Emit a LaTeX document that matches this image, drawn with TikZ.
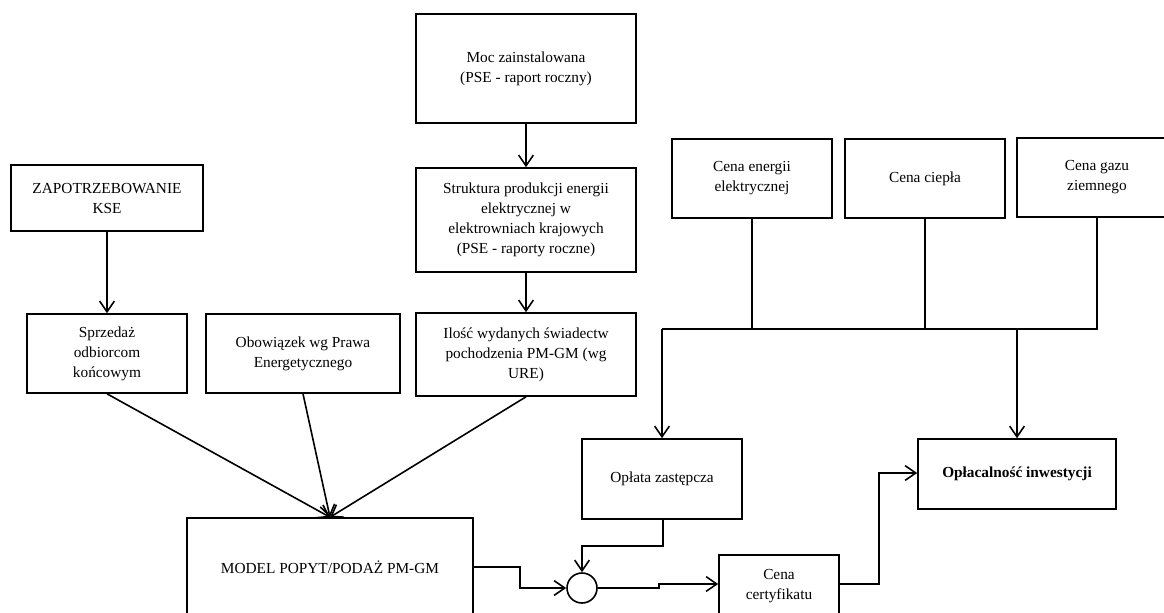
\documentclass[tikz,border=0pt]{standalone}
\usepackage{fontspec}
\setmainfont{Liberation Serif}
\usetikzlibrary{arrows.meta}
\tikzset{
  wh/.style 2 args={minimum width=#1*0.75pt, minimum height=#2*0.75pt},
  box/.style={draw, line width=1.2pt, align=center, inner sep=0pt,
    font=\fontsize{11.5}{15}\selectfont},
  conn/.style={line width=1.2pt},
  arr/.style={conn, -{Straight Barb[length=8pt,width=11pt,line width=1.2pt]}},
  junction/.style={draw, circle, line width=1.2pt, inner sep=0pt, minimum size=22.5pt}
}
\begin{document}
\begin{tikzpicture}[x=0.75pt, y=-0.75pt]
\useasboundingbox (0,0) rectangle (1164,612);

\node[box, wh={192}{66}] (zap) at (107,198) {ZAPOTRZEBOWANIE\\KSE};
\node[box, wh={160}{79}] (sprz) at (107,353.5) {Sprzedaż\\odbiorcom\\końcowym};
\node[box, wh={194}{79}] (obow) at (303,353.5) {Obowiązek wg Prawa\\Energetycznego};
\node[box, wh={220}{109}] (moc) at (526,68.5) {Moc zainstalowana\\(PSE - raport roczny)};
\node[box, wh={220}{104}] (strukt) at (526,220) {Struktura produkcji energii\\elektrycznej w\\elektrowniach krajowych\\(PSE - raporty roczne)};
\node[box, wh={220}{83}] (ilosc) at (526,354.5) {Ilość wydanych świadectw\\pochodzenia PM-GM (wg\\URE)};
\node[box, wh={160}{79}] (cenaE) at (752,178.5) {Cena energii\\elektrycznej};
\node[box, wh={160}{79}] (cenaC) at (925,178.5) {Cena ciepła};
\node[box, wh={160}{79}] (cenaG) at (1097,177.5) {Cena gazu\\ziemnego};
\node[box, wh={160}{80}] (oplata) at (662,479) {Opłata zastępcza};
\node[box, wh={198}{70}] (oplac) at (1017,474) {\textbf{Opłacalność inwestycji}};
\node[box, wh={286}{98}] (model) at (330,567) {MODEL POPYT/PODAŻ PM-GM};
\node[junction] (sum) at (582,588) {};
\node[box, wh={120}{62}] (cert) at (779,586) {Cena\\certyfikatu};

% left column
\draw[arr] (zap) -- (sprz);
\draw[arr] (moc) -- (strukt);
\draw[arr] (strukt) -- (ilosc);
\draw[arr] (sprz.south) -- (model.north);
\draw[arr] (obow.south) -- (model.north);
\draw[arr] (ilosc.south) -- (model.north);

% price bus
\coordinate (busL) at (662,329);
\coordinate (busR) at (1017,329);
\draw[conn] (cenaE.south) -- (cenaE.south |- busL);
\draw[conn] (cenaC.south) -- (cenaC.south |- busL);
\draw[conn] (cenaG.south) |- (busR);
\draw[conn] (busL) -- (busR);
\draw[arr] (busL) -- (oplata.north);
\draw[arr] (busR) -- (oplac.north);

% bottom flow
\coordinate (m1) at (520,567);
\coordinate (m2) at (520,588);
\draw[arr] (model.east |- m1) -- (m1) -- (m2) -- (sum.west);
\coordinate (o1) at (663,546);
\coordinate (o2) at (582,546);
\draw[arr] (oplata.south -| o1) -- (o1) -- (o2) -- (sum.north);
\coordinate (s1) at (659,588);
\coordinate (s2) at (659,584);
\draw[arr] (sum.east) -- (s1) -- (s2) -- (cert.west |- s2);
\coordinate (c1) at (879,584);
\coordinate (c2) at (879,473);
\draw[arr] (cert.east |- c1) -- (c1) -- (c2) -- (oplac.west |- c2);
\end{tikzpicture}
\end{document}
